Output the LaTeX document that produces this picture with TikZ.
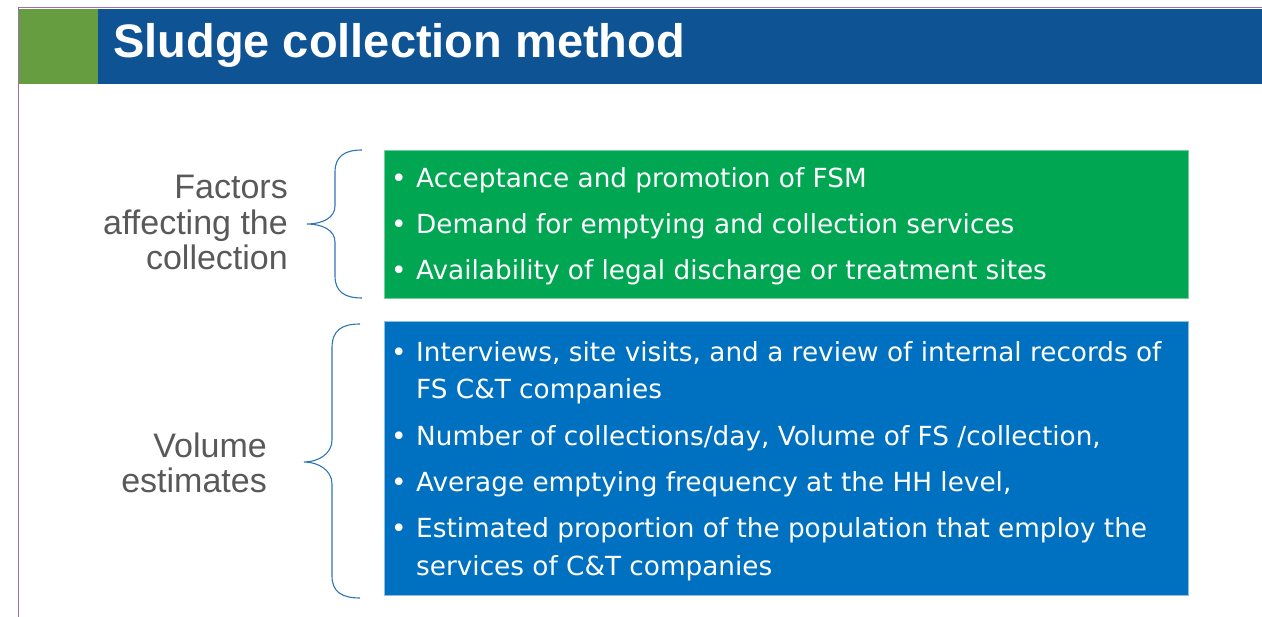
\documentclass[tikz,border=0pt]{standalone}
\usepackage{fontspec}
\setmainfont{Liberation Sans}
\newfontfamily\itemfont{DejaVu Sans}
\usetikzlibrary{positioning}
\definecolor{hdrblue}{RGB}{14,83,148}
\definecolor{hdrgreen}{RGB}{103,157,65}
\definecolor{boxgreen}{RGB}{0,166,81}
\definecolor{boxblue}{RGB}{0,112,192}
\definecolor{bracecol}{RGB}{46,117,182}
\definecolor{labelgray}{RGB}{89,89,89}
\definecolor{framepurple}{RGB}{160,110,170}
\newcommand{\bul}{\makebox[26pt][l]{\hspace{1pt}•}}

\begin{document}
\begin{tikzpicture}[x=1pt,y=-1pt,
  item/.style={anchor=base west,text=white,inner sep=0pt,font=\itemfont\fontsize{26.3}{30}\selectfont},
  side/.style={anchor=base east,text=labelgray,inner sep=0pt,font=\fontsize{34}{36}\selectfont},
  panel/.style={anchor=north west,inner sep=0pt,minimum width=804pt},
  curly/.style={bracecol,line width=1.1pt}]
\useasboundingbox (0,0) rectangle (1262,617);
\fill[hdrblue] (98,9) rectangle (1262,84);
\fill[hdrgreen] (19,9) rectangle (98,84);
\draw[framepurple,line width=1pt] (18,617)--(18,8)--(1262,8);
\node[anchor=base west,text=white,inner sep=0pt,font=\bfseries\fontsize{47}{52}\selectfont] (title) at (113,58) {Sludge collection method};

\node[panel,fill=boxgreen,draw=boxgreen!55!white,line width=0.6pt,minimum height=148pt] (factbox) at (384,150) {};
\node[panel,fill=boxblue,draw=boxblue!45!white,line width=0.6pt,minimum height=274pt] (volbox) at (384,321) {};

\node[item] (f1) at (390,188) {\bul Acceptance and promotion of FSM};
\node[item] (f2) at (390,234) {\bul Demand for emptying and collection services};
\node[item] (f3) at (390,280) {\bul Availability of legal discharge or treatment sites};

\node[item] (v1) at (390,362) {\bul Interviews, site visits, and a review of internal records of};
\node[item] (v1b) at (416,399) {FS C\&T companies};
\node[item] (v2) at (390,446) {\bul Number of collections/day, Volume of FS /collection,};
\node[item] (v3) at (390,492) {\bul Average emptying frequency at the HH level,};
\node[item] (v4) at (390,538) {\bul Estimated proportion of the population that employ the};
\node[item] (v4b) at (416,576) {services of C\&T companies};

\node[side] (fa) at (288,199) {Factors};
\node[side] (fb) at (288,234.5) {affecting the};
\node[side] (fc) at (288,270) {collection};
\node[side] (va) at (267,458) {Volume};
\node[side] (vb) at (267,493) {estimates};

\coordinate (t1) at (362,150);
\coordinate (m1) at (307,224);
\coordinate (e1) at (362,298);
\draw[curly] (t1) .. controls (345,150) and (335,156) .. (335,172) -- (335,206)
  .. controls (335,218) and (322,224) .. (m1)
  .. controls (322,224) and (335,230) .. (335,242) -- (335,276)
  .. controls (335,292) and (345,298) .. (e1);
\coordinate (t2) at (360,324);
\coordinate (m2) at (304,462);
\coordinate (e2) at (360,598);
\draw[curly] (t2) .. controls (342,324) and (332,330) .. (332,348) -- (332,440)
  .. controls (332,454) and (318,462) .. (m2)
  .. controls (318,462) and (332,470) .. (332,484) -- (332,576)
  .. controls (332,592) and (342,598) .. (e2);
\end{tikzpicture}
\end{document}
